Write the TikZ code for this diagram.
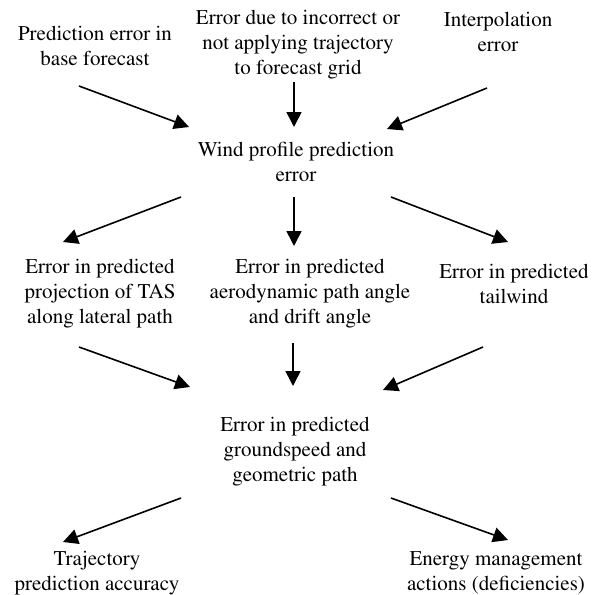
\documentclass[tikz,border=0pt]{standalone}
\usepackage[T1]{fontenc}
\usepackage{times}
\usetikzlibrary{arrows.meta}

\begin{document}
\begin{tikzpicture}[x=1pt, y=-1pt,
    lbl/.style={align=center, inner sep=0pt, font=\fontsize{21}{25}\selectfont},
    arr/.style={line width=1.6pt, -{Triangle[length=15pt, width=15pt]}}]
    \useasboundingbox (0,0) rectangle (604,594);
    % sources
    \node[lbl] (base) at (95,46) {Prediction error in\\base forecast};
    \node[lbl] (grid) at (298,45) {Error due to incorrect or\\not applying trajectory\\to forecast grid};
    \node[lbl] (interp) at (498,32) {Interpolation\\error};
    % wind error
    \node[lbl] (wind) at (296,162) {Wind profile prediction\\error};
    % predicted quantities
    \node[lbl] (tas) at (100,294) {Error in predicted\\projection of TAS\\along lateral path};
    \node[lbl] (angle) at (310,294) {Error in predicted\\aerodynamic path angle\\and drift angle};
    \node[lbl] (tail) at (514,284) {Error in predicted\\tailwind};
    % groundspeed
    \node[lbl] (gs) at (295,452) {Error in predicted\\groundspeed and\\geometric path};
    % effects
    \node[lbl] (acc) at (97,573) {Trajectory\\prediction accuracy};
    \node[lbl] (energy) at (496,573) {Energy management\\actions (deficiencies)};
    % arrows into wind
    \draw[arr] ([shift={(-16,40)}]base.center) -- ([shift={(-107,-35)}]wind.center);
    \draw[arr] ([shift={(-4,37)}]grid.center) -- ([shift={(-2,-35)}]wind.center);
    \draw[arr] ([shift={(-11,56)}]interp.center) -- ([shift={(91,-33)}]wind.center);
    % arrows out of wind
    \draw[arr] ([shift={(-115,35)}]wind.center) -- ([shift={(-37,-52)}]tas.center);
    \draw[arr] ([shift={(-2,35)}]wind.center) -- ([shift={(-16,-48)}]angle.center);
    \draw[arr] ([shift={(95,35)}]wind.center) -- ([shift={(-6,-42)}]tail.center);
    % arrows into groundspeed
    \draw[arr] ([shift={(-21,53)}]tas.center) -- ([shift={(-105,-65)}]gs.center);
    \draw[arr] ([shift={(-17,49)}]angle.center) -- ([shift={(-2,-66)}]gs.center);
    \draw[arr] ([shift={(-31,63)}]tail.center) -- ([shift={(88,-62)}]gs.center);
    % arrows to effects
    \draw[arr] ([shift={(-114,46)}]gs.center) -- ([shift={(-34,-31)}]acc.center);
    \draw[arr] ([shift={(96,46)}]gs.center) -- ([shift={(12,-33)}]energy.center);
\end{tikzpicture}
\end{document}
